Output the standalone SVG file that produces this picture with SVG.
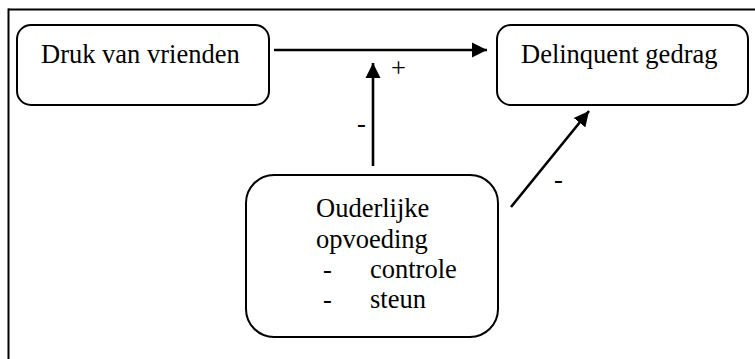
<svg xmlns="http://www.w3.org/2000/svg" width="755" height="359" viewBox="0 0 755 359">
<style>
.box{fill:#fff;stroke:#000;stroke-width:2}
.t{font-family:"Liberation Serif","Times New Roman",serif;font-size:26.5px;fill:#000}
.c{stroke:#000;stroke-width:2.6;fill:none;marker-end:url(#ah)}
</style>
<defs>
<marker id="ah" markerUnits="userSpaceOnUse" markerWidth="16" markerHeight="16" viewBox="0 0 16 16" refX="15" refY="8" orient="auto">
<path d="M0,0.5 L15,8 L0,15.5 Z" fill="#000"/>
</marker>
</defs>
<rect width="755" height="359" fill="#fff"/>
<g id="frame">
<line x1="8" y1="9.5" x2="755" y2="9.5" stroke="#000" stroke-width="2"/>
<line x1="8.5" y1="8.5" x2="8.5" y2="359" stroke="#000" stroke-width="2"/>
</g>
<g id="connectors">
<line class="c" x1="274" y1="50" x2="487" y2="50"/>
<line class="c" x1="373" y1="166" x2="373" y2="63"/>
<line class="c" x1="511" y1="207" x2="589" y2="111"/>
<text class="t" x="391" y="77">+</text>
<text class="t" x="357" y="132">-</text>
<text class="t" x="554" y="188">-</text>
</g>
<g id="node-druk">
<rect class="box" x="17" y="25" width="252" height="80" rx="14"/>
<text class="t" x="41" y="63">Druk van vrienden</text>
</g>
<g id="node-delinquent">
<rect class="box" x="497" y="25" width="251" height="80" rx="14"/>
<text class="t" x="521" y="63">Delinquent gedrag</text>
</g>
<g id="node-ouderlijk">
<rect class="box" x="246" y="175" width="252" height="162" rx="28"/>
<text class="t" x="316" y="217">Ouderlijke</text>
<text class="t" x="316" y="248">opvoeding</text>
<text class="t" x="323" y="278">-</text>
<text class="t" x="370" y="278">controle</text>
<text class="t" x="323" y="308">-</text>
<text class="t" x="370" y="308">steun</text>
</g>
</svg>
